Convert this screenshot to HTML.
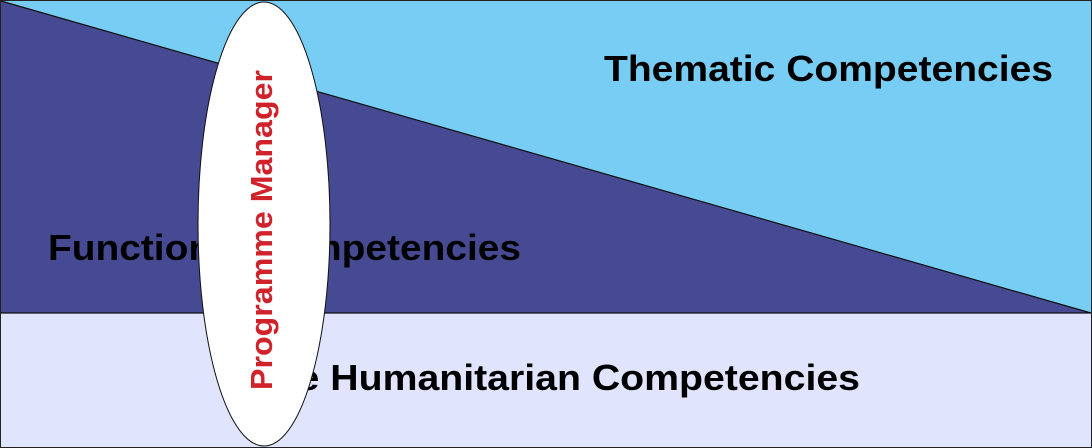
<!DOCTYPE html>
<html><head><meta charset="utf-8"><style>html,body{margin:0;padding:0;background:#fff}svg{display:block}</style></head>
<body>
<svg width="1092" height="448" viewBox="0 0 1092 448" xmlns="http://www.w3.org/2000/svg">
<rect x="0.5" y="0.5" width="1091" height="447" fill="#e0e5fd" stroke="#222" stroke-width="1"/>
<polygon points="1,1 1091,1 1091,313" fill="#77cdf3"/>
<polygon points="1,1 1091,313 1,313" fill="#464a92"/>
<line x1="1" y1="1" x2="1091" y2="313" stroke="#111" stroke-width="1.2"/>
<line x1="1" y1="313" x2="1091" y2="313" stroke="#111" stroke-width="1.2"/>
<g font-family="Liberation Sans, sans-serif" font-weight="bold" font-size="36" fill="#000">
<text x="604" y="81" textLength="449" lengthAdjust="spacingAndGlyphs">Thematic Competencies</text>
<text x="48" y="260" textLength="473" lengthAdjust="spacingAndGlyphs">Functional Competencies</text>
<text x="230" y="390" textLength="630" lengthAdjust="spacingAndGlyphs">Core Humanitarian Competencies</text>
</g>
<ellipse cx="264" cy="224" rx="66" ry="222" fill="#fff" stroke="#111" stroke-width="1"/>
<text transform="translate(272,230) rotate(-90)" text-anchor="middle" font-family="Liberation Sans, sans-serif" font-weight="bold" font-size="31" fill="#d0222a" textLength="320" lengthAdjust="spacingAndGlyphs">Programme Manager</text>
</svg>
</body></html>
